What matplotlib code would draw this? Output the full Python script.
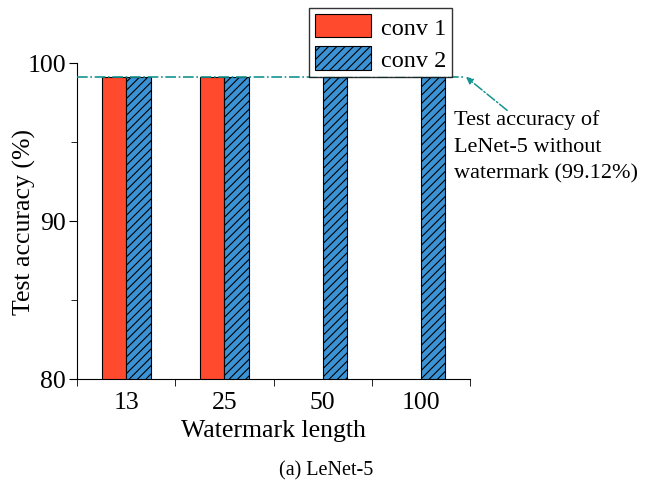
import numpy as np
import matplotlib
matplotlib.use("Agg")
import matplotlib.pyplot as plt
from matplotlib.ticker import MultipleLocator

plt.rcParams["font.family"] = ["Liberation Serif", "DejaVu Serif"]
plt.rcParams["hatch.linewidth"] = 0.8

lengths = ["13", "25", "50", "100"]
conv1 = [99.1, 99.1, np.nan, np.nan]
conv2 = [99.1, 99.1, 99.1, 99.1]
baseline = 99.12

fig = plt.figure(figsize=(6.49, 4.81), dpi=100)
ax = fig.add_axes([0.119, 0.21, 0.605, 0.657])

x = np.arange(len(lengths))
w = 0.25
ax.bar(x - w / 2, conv1, w, color="#FF4A2E", edgecolor="black", linewidth=0.8,
       label="conv 1", zorder=2)
ax.bar(x + w / 2, conv2, w, color="#3B93D6", edgecolor="black", linewidth=0.8,
       hatch="////", label="conv 2", zorder=2)

ax.plot([-0.5, 3.45], [baseline, baseline], color="#17948F", linestyle="-.",
        linewidth=1.2, zorder=3, clip_on=False)
ax.text(3.337, 97.07, "Test accuracy of\nLeNet-5 without\nwatermark (99.12%)",
        fontsize=16, va="top", ha="left", linespacing=1.55, clip_on=False)
ax.annotate("", xy=(3.46, baseline), xycoords="data",
            xytext=(3.88, 97.0), textcoords="data",
            arrowprops=dict(arrowstyle="-|>", color="#17948F", linestyle="-.",
                            linewidth=1.1, mutation_scale=10,
                            shrinkA=0, shrinkB=0),
            annotation_clip=False)

ax.set_xlim(-0.5, 3.5)
ax.set_ylim(80, 100)
ax.set_xticks(x)
ax.set_xticklabels(lengths)
ax.set_xticks(np.arange(-0.5, 3.6, 1.0), minor=True)
ax.tick_params(axis="x", which="major", length=0, labelsize=18.5, pad=9)
ax.tick_params(axis="x", which="minor", length=5, direction="out")
ax.set_yticks([80, 90, 100])
ax.yaxis.set_minor_locator(MultipleLocator(5))
ax.tick_params(axis="y", which="major", length=6, labelsize=18.5, pad=2)
ax.tick_params(axis="y", which="minor", length=4)

ax.spines["top"].set_visible(False)
ax.spines["right"].set_visible(False)

ax.set_xlabel("Watermark length", fontsize=18.5, labelpad=4)
ax.set_ylabel("Test accuracy (%)", fontsize=18.5)
ax.yaxis.set_label_coords(-0.105, 0.5)

leg = ax.legend(loc="upper left", bbox_to_anchor=(0.591, 1.174), fontsize=17.5,
                frameon=True, fancybox=False, edgecolor="black",
                handlelength=2.3, handleheight=1.1, borderpad=0.25,
                labelspacing=0.3, handletextpad=0.4, borderaxespad=0)
leg.get_frame().set_linewidth(1.0)

fig.text(0.502, 0.012, "(a) LeNet-5", fontsize=14.5, ha="center")

fig.savefig("out.png", dpi=100)
